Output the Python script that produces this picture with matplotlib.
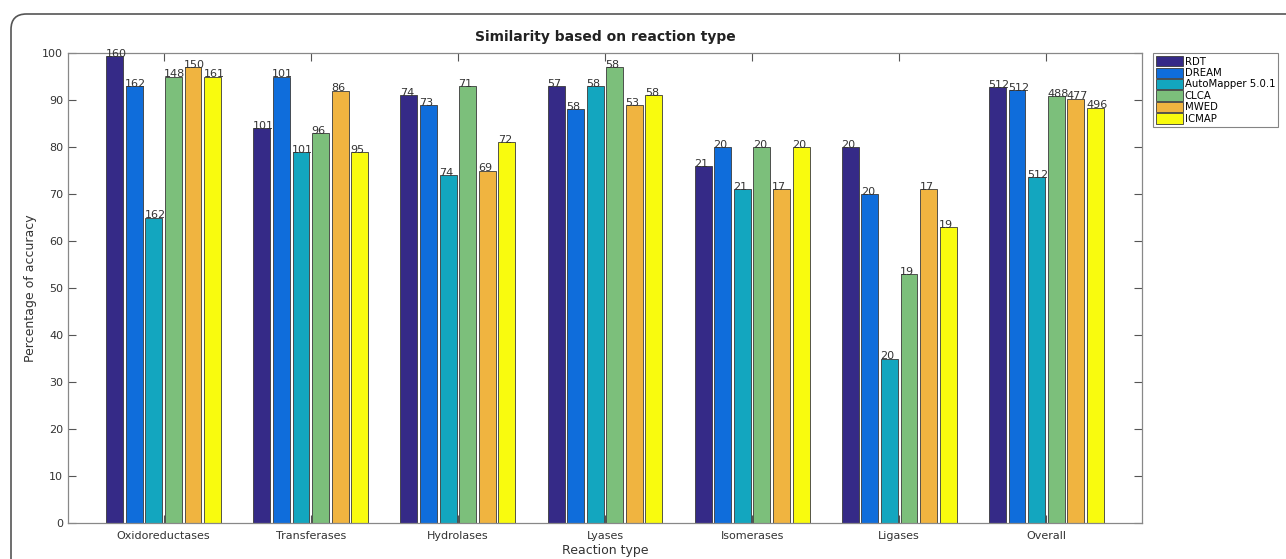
import matplotlib
matplotlib.use("Agg")
import matplotlib.pyplot as plt
import numpy as np
from matplotlib.patches import FancyBboxPatch

categories = ["Oxidoreductases", "Transferases", "Hydrolases", "Lyases",
              "Isomerases", "Ligases", "Overall"]
methods = ["RDT", "DREAM", "AutoMapper 5.0.1", "CLCA", "MWED", "ICMAP"]
colors = ["#352a87", "#0f6ddb", "#13a6bf", "#7cbf7b", "#f0b440", "#f9fb0e"]

rdt = [99.3, 84, 91, 93, 76, 80, 92.8]
dream = [93, 95, 89, 88, 80, 70, 92.1]
automapper = [65, 79, 74, 93, 71, 35, 73.6]
clca = [95, 83, 93, 97, 80, 53, 90.8]
mwed = [97, 92, 75, 89, 71, 71, 90.3]
icmap = [95, 79, 81, 91, 80, 63, 88.4]

n_rdt = [160, 101, 74, 57, 21, 20, 512]
n_dream = [162, 101, 73, 58, 20, 20, 512]
n_automapper = [162, 101, 74, 58, 21, 20, 512]
n_clca = [148, 96, 71, 58, 20, 19, 488]
n_mwed = [150, 86, 69, 53, 17, 17, 477]
n_icmap = [161, 95, 72, 58, 20, 19, 496]

values = [rdt, dream, automapper, clca, mwed, icmap]
counts = [n_rdt, n_dream, n_automapper, n_clca, n_mwed, n_icmap]

W, H = 1286, 559
fig = plt.figure(figsize=(W / 100, H / 100), dpi=100)
fig.patch.set_facecolor("white")

# rounded frame around the figure (cut off at right and bottom)
frame = FancyBboxPatch((11 / W, -0.2), 1.2, 1 - 14 / H + 0.2,
                       boxstyle="round,pad=0,rounding_size=0.012",
                       transform=fig.transFigure, fill=False,
                       edgecolor="#555555", linewidth=1.2, zorder=0,
                       mutation_aspect=W / H)
fig.patches.append(frame)

ax = fig.add_axes([68 / W, 1 - 523 / H, (1142 - 68) / W, (523 - 53) / H])

x = np.arange(1, len(categories) + 1)
pitch = 0.133
bw = 0.115
for i, (vals, cnts, col, name) in enumerate(zip(values, counts, colors, methods)):
    pos = x + (i - 2.5) * pitch
    ax.bar(pos, vals, width=bw, color=col, edgecolor="#3a3a3a",
           linewidth=0.6, label=name, zorder=2)
    for p, v, c in zip(pos, vals, cnts):
        ax.text(p - bw / 2 - 0.005, v - 0.6, str(c), ha="left", va="bottom",
                fontsize=8, color="#333333", zorder=3)

ax.set_xlim(0.35, 7.65)
ax.set_ylim(0, 100)
ax.set_yticks(np.arange(0, 101, 10))
ax.set_xticks(x)
ax.set_xticklabels(categories)
ax.tick_params(axis="both", direction="in", length=6, width=0.8,
               color="#555555", labelsize=8, labelcolor="#333333",
               top=True, right=True)
ax.tick_params(axis="x", pad=6)
for s in ax.spines.values():
    s.set_color("#888888")
    s.set_linewidth(0.9)

ax.set_title("Similarity based on reaction type", fontsize=10,
             fontweight="bold", color="#222222", pad=9)
ax.set_ylabel("Percentage of accuracy", fontsize=9, color="#333333")
ax.set_xlabel("Reaction type", fontsize=9, color="#333333", labelpad=2)

leg = ax.legend(loc="upper left", bbox_to_anchor=(1.010, 1.0), fontsize=7.3,
                frameon=True, fancybox=False, edgecolor="#666666",
                handlelength=2.7, handleheight=1.15, handletextpad=0.15,
                labelspacing=0.1, borderpad=0.3, borderaxespad=0)
leg.get_frame().set_linewidth(0.8)

fig.savefig("out.png", dpi=100)
